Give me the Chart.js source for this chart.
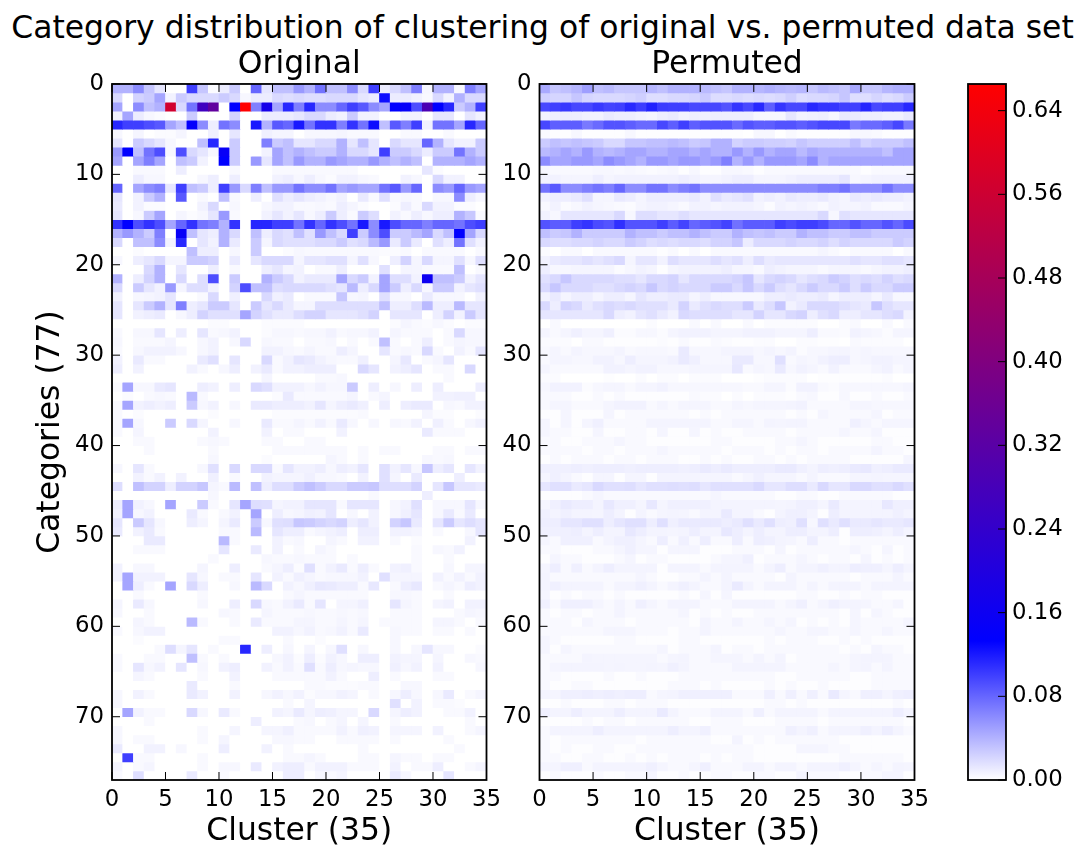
<!DOCTYPE html>
<html>
<head>
<meta charset="utf-8">
<title>Category distribution</title>
<script src="https://cdn.jsdelivr.net/npm/chart.js@4/dist/chart.umd.js"></script>
<style>
  html, body { margin: 0; padding: 0; background: #fff; }
  body { width: 1081px; height: 848px; position: relative; overflow: hidden; filter: blur(0.5px); }
  #suptitle { position: absolute; left: 0; top: 10px; width: 1085px; text-align: center;
    font: 31.4px "DejaVu Sans"; line-height: 34px; color: #000; white-space: nowrap; }
  .box { position: absolute; }
</style>
</head>
<body>
<div id="suptitle">Category distribution of clustering of original vs. permuted data set</div>
<div class="box" style="left:0;top:30px;width:507px;height:818px"><canvas id="orig"></canvas></div>
<div class="box" style="left:495px;top:30px;width:440px;height:818px"><canvas id="perm"></canvas></div>
<div class="box" style="left:950px;top:60px;width:131px;height:788px"><canvas id="cbar"></canvas></div>
<script>
// tick labels
const clusterTicks = [0, 5, 10, 15, 20, 25, 30, 35];
const categoryTicks = [0, 10, 20, 30, 40, 50, 60, 70];
const colorbarTicks = [0, 0.08, 0.16, 0.24, 0.32, 0.40, 0.48, 0.56, 0.64];
const clusterCount = 35, categoryCount = 77, colorMax = 0.6655, blueStop = 0.2;

// share of each category per cluster, in thousandths (one row per category)
const original = [
[40,40,60,30,13,0,0,100,30,2,10,27,0,80,13,33,33,53,40,73,33,33,60,20,100,10,20,33,67,4,40,40,4,67,47],
[20,0,23,27,47,7,27,20,20,20,27,20,4,10,10,20,17,20,17,17,20,20,20,13,10,126,10,10,7,3,20,7,40,20,20],
[47,0,60,33,40,570,20,73,265,335,0,133,665,67,180,47,113,67,113,60,60,80,100,87,60,47,133,145,93,290,133,113,27,40,100],
[7,47,10,4,2,0,0,27,0,0,0,23,0,0,10,10,10,13,20,20,10,7,27,7,7,0,0,7,7,0,13,13,0,13,7],
[113,100,100,93,87,47,33,140,60,9,73,60,0,120,40,87,80,120,73,107,107,67,107,73,126,33,87,67,100,7,73,73,47,113,80],
[4,0,5,0,2,2,5,0,0,8,0,13,0,0,8,5,5,0,4,4,4,5,3,3,3,0,0,3,3,0,0,3,0,0,0],
[13,0,27,20,13,4,0,0,33,113,0,27,0,0,67,27,33,13,13,20,20,40,13,33,13,0,20,13,13,80,40,13,7,7,27],
[53,133,33,73,93,4,93,20,13,4,150,27,0,0,7,47,33,40,33,27,27,40,20,20,13,100,27,27,20,10,27,27,73,40,27],
[47,0,47,67,47,0,33,27,7,0,133,27,0,53,13,47,33,53,40,40,53,47,40,40,53,40,33,40,33,0,40,40,40,47,40],
[0,0,3,3,3,0,9,0,0,0,0,3,0,0,0,3,3,3,3,3,3,3,3,0,0,0,0,0,0,13,2,0,0,0,0],
[0,0,9,4,4,0,0,0,4,9,0,9,0,0,0,7,9,4,9,4,2,7,7,4,3,0,0,7,4,0,20,7,7,0,0],
[80,0,47,60,67,13,100,33,27,9,100,53,20,67,33,53,53,73,60,60,73,47,53,47,47,73,87,53,80,0,60,53,80,53,47],
[13,0,7,27,40,0,87,0,3,0,33,3,0,9,0,16,9,13,9,7,4,7,0,11,3,16,3,4,3,0,4,4,60,9,4],
[11,0,7,2,2,0,0,0,7,20,0,4,0,0,4,7,7,3,3,4,3,9,5,2,0,0,2,9,3,20,7,7,2,2,0],
[13,0,4,27,47,0,5,2,4,13,53,3,0,0,7,13,7,13,4,9,27,9,3,27,17,0,7,3,9,4,9,9,40,29,3],
[107,133,93,107,93,47,80,107,73,67,40,107,0,113,113,100,100,73,107,80,107,93,73,120,60,120,93,80,80,67,80,80,73,93,100],
[40,53,40,27,67,0,150,33,13,9,40,20,0,33,9,20,16,33,16,53,33,20,100,27,60,93,27,27,36,47,20,33,133,47,20],
[20,0,33,33,60,7,113,0,13,7,40,11,0,27,5,20,16,16,16,20,20,27,16,20,36,53,11,27,11,0,16,9,73,16,7],
[0,0,2,0,0,0,0,33,9,9,0,4,0,27,0,0,2,4,3,3,3,3,3,3,3,2,2,3,0,3,3,3,3,0,3],
[4,0,9,13,20,5,5,27,27,23,0,11,0,13,20,20,20,5,13,13,16,16,5,16,4,0,9,23,5,20,5,5,16,4,16],
[0,0,0,20,40,0,13,0,0,9,0,3,0,0,9,13,5,7,0,3,3,9,0,0,0,16,0,5,5,3,3,3,33,0,3],
[40,0,9,23,40,0,20,0,17,93,0,27,0,0,40,27,20,7,11,11,11,47,20,27,7,47,17,17,7,160,33,33,27,7,13],
[20,0,27,13,7,53,5,17,17,7,0,23,93,33,33,17,20,20,20,20,16,13,36,9,20,47,27,9,20,4,27,27,7,13,16],
[7,0,4,5,7,13,0,0,3,20,0,8,0,0,20,8,11,0,3,3,3,29,4,5,0,16,4,4,0,11,4,4,4,0,7],
[13,0,13,27,40,13,67,9,13,27,27,13,0,27,13,20,11,5,5,17,17,17,17,17,17,33,9,9,17,36,9,9,36,13,13],
[13,0,7,9,11,0,4,9,23,16,16,16,47,23,16,11,11,17,23,23,13,13,13,16,23,0,13,13,13,0,9,23,7,27,13],
[0,0,0,0,0,0,0,0,0,2,2,0,0,0,2,2,2,2,0,0,0,0,0,0,0,0,2,5,3,2,4,2,0,2,2],
[3,0,4,4,13,0,9,0,13,3,4,7,0,0,2,4,4,3,4,4,7,3,4,4,7,0,5,3,3,3,0,3,20,4,4],
[4,0,3,3,3,5,0,0,4,7,0,4,20,0,4,3,3,0,3,3,4,0,3,0,3,33,3,0,3,9,0,3,5,4,4],
[3,0,4,7,7,7,4,0,4,7,0,0,0,0,7,7,4,3,5,3,3,9,5,0,0,13,3,4,3,20,3,0,7,3,13],
[7,0,11,3,3,0,0,0,11,16,0,13,0,0,20,3,7,13,11,7,4,3,3,8,0,0,5,12,0,3,5,13,0,0,0],
[9,0,7,0,0,0,0,7,3,0,4,9,0,7,11,3,7,7,9,9,9,0,0,20,13,0,7,9,13,0,3,3,0,20,0],
[0,0,0,0,0,0,0,0,0,0,0,0,0,0,5,0,0,0,0,3,3,4,0,0,0,0,0,0,0,0,0,3,0,0,0],
[2,47,4,4,11,13,0,0,9,7,0,9,0,20,16,7,7,7,4,7,4,4,27,0,9,0,4,0,9,0,9,0,0,0,9],
[0,2,0,3,4,3,0,36,3,0,0,0,0,0,0,2,11,3,3,3,3,3,5,0,3,5,0,0,0,0,7,7,8,8,0],
[3,47,7,9,7,9,0,27,4,7,0,4,0,11,11,9,9,9,7,13,5,9,11,8,0,9,0,9,11,11,0,4,3,7,7],
[3,0,2,0,0,0,0,0,0,2,0,0,0,0,0,2,2,2,2,2,2,2,2,3,0,0,0,0,0,5,2,2,0,0,2],
[3,47,4,0,0,27,0,20,5,0,0,4,0,0,11,3,3,5,3,7,3,11,4,0,4,0,4,3,7,0,8,3,0,4,7],
[3,0,5,0,0,0,0,0,0,7,0,0,0,0,7,0,3,3,0,0,0,7,0,0,0,0,0,0,0,11,3,3,3,0,0],
[0,0,3,3,0,0,0,0,3,4,3,0,0,0,3,3,0,0,3,3,0,0,0,0,0,0,0,0,0,0,0,0,0,0,0],
[0,0,0,3,0,0,0,0,0,3,0,0,0,0,0,3,3,3,3,3,3,3,0,3,0,3,3,0,0,0,3,3,0,3,3],
[0,0,0,0,0,0,0,0,0,4,0,0,0,0,2,0,0,0,0,0,5,3,0,3,0,0,0,0,0,4,3,4,0,0,0],
[4,0,13,3,0,0,0,0,4,16,0,20,0,20,20,3,13,7,7,9,4,9,7,13,0,16,7,13,4,29,9,13,0,13,7],
[0,0,7,3,7,0,7,0,0,8,0,3,0,0,7,5,5,5,8,4,4,3,0,7,0,16,5,0,11,0,0,0,9,0,0],
[17,0,33,23,23,9,23,23,29,5,3,36,0,33,9,17,17,27,33,27,20,20,27,27,29,17,17,17,23,0,13,29,13,13,11],
[0,0,0,0,0,0,0,0,0,4,0,0,0,0,0,0,0,0,0,0,0,0,0,0,3,0,0,0,0,9,0,0,0,0,0],
[9,47,7,4,0,47,0,0,27,3,0,13,47,17,16,5,7,7,13,13,13,3,13,13,13,0,4,7,16,0,4,4,4,13,4],
[7,47,4,7,0,0,0,11,3,0,3,7,0,47,0,9,4,5,8,7,13,0,4,0,7,0,4,8,13,0,4,11,3,11,0],
[13,0,27,13,4,0,0,9,5,0,5,11,0,27,4,16,17,29,27,23,20,23,9,13,7,0,23,29,11,0,13,27,13,17,13],
[11,0,7,11,3,0,0,0,0,0,3,3,0,36,0,13,9,9,3,5,7,9,0,9,9,0,7,7,5,0,3,0,0,4,13],
[0,0,0,11,11,0,0,0,0,0,36,3,0,0,0,7,3,4,0,0,5,3,0,7,7,0,3,0,2,0,0,0,0,7,0],
[0,0,3,3,3,0,0,0,0,0,13,0,0,11,0,7,0,3,0,5,3,0,0,0,0,0,0,0,3,0,4,3,7,0,0],
[0,0,0,0,0,0,0,0,0,3,0,0,0,0,4,3,3,4,3,3,3,0,3,0,0,0,0,0,3,0,0,3,0,0,0],
[7,0,4,4,0,0,0,0,5,0,0,9,0,0,3,5,9,2,16,3,7,11,3,9,3,0,7,8,3,0,0,4,0,5,5],
[7,47,7,7,7,0,0,13,4,0,3,3,0,13,0,7,3,8,5,3,4,4,4,7,0,16,5,5,5,0,7,3,7,3,7],
[0,47,9,3,0,47,0,20,9,0,0,4,0,36,20,0,7,4,8,12,11,9,9,3,12,0,3,9,12,0,3,5,3,9,7],
[0,0,3,0,0,0,0,0,3,0,0,0,0,0,0,0,3,5,3,3,3,3,3,3,0,0,4,4,3,0,0,3,0,0,0],
[5,0,11,4,0,0,0,0,4,0,0,9,0,20,4,3,7,11,3,13,0,5,5,8,0,0,13,5,3,0,5,7,0,7,7],
[4,0,0,3,0,0,0,0,0,0,4,3,0,0,5,3,3,3,4,3,3,4,3,4,0,0,3,3,3,0,0,0,3,5,4],
[0,0,5,3,0,0,0,36,3,0,0,3,0,11,3,3,3,5,5,3,3,5,3,5,0,3,3,3,3,0,5,5,3,0,3],
[3,0,4,7,7,0,0,0,0,0,0,0,0,0,0,7,7,4,7,3,4,7,3,11,0,0,4,3,3,0,3,3,0,3,0],
[0,0,2,0,0,0,0,0,0,0,3,3,0,0,0,0,3,0,0,2,0,0,0,0,0,0,4,0,0,0,0,0,0,0,0],
[0,0,0,0,3,17,5,13,0,3,0,0,113,0,9,0,4,0,5,0,4,16,0,4,0,0,4,0,4,13,4,4,0,0,2],
[3,0,0,3,3,0,0,33,3,0,3,0,0,0,0,4,7,2,9,2,7,4,0,9,9,0,7,5,5,0,5,0,0,4,3],
[3,0,13,4,7,0,13,0,4,0,7,9,0,0,7,3,7,3,16,3,9,4,5,4,4,0,8,4,7,0,7,0,0,0,4],
[0,0,5,3,0,0,0,0,3,0,0,7,0,0,0,3,3,3,3,3,7,3,0,0,9,0,3,0,0,0,3,3,0,0,0],
[0,0,0,0,0,0,0,11,0,0,0,3,0,0,0,0,0,0,3,3,2,2,2,3,3,0,0,4,4,0,0,0,0,0,0],
[4,0,7,3,0,0,0,11,7,0,0,7,0,0,4,7,4,7,2,4,4,7,5,0,3,0,4,9,4,0,4,11,0,3,5],
[4,0,0,0,0,0,0,0,0,0,0,0,0,0,0,0,3,0,5,0,0,0,0,0,0,0,16,0,7,0,3,3,2,0,0],
[0,47,7,3,3,0,0,20,4,0,11,3,0,0,0,7,5,11,5,9,8,5,5,0,20,0,5,9,7,0,0,3,3,7,0],
[0,0,0,3,0,0,0,0,0,0,0,0,0,9,0,0,0,3,4,0,3,5,0,5,0,0,3,0,0,0,0,0,0,3,0],
[4,0,0,0,0,0,0,0,3,0,0,5,0,0,5,5,8,3,3,3,3,7,3,8,7,0,5,5,5,0,7,0,0,3,5],
[4,0,3,3,0,0,0,0,3,0,5,0,0,0,0,4,4,3,3,0,0,3,3,3,3,0,3,0,0,0,0,3,0,0,0],
[11,0,0,7,7,0,4,0,0,0,9,0,0,0,7,0,3,0,0,0,0,0,0,3,0,0,0,0,0,0,0,0,3,0,0],
[0,100,3,3,0,0,0,0,3,0,0,0,0,0,0,0,3,3,5,3,0,0,0,3,3,0,5,3,3,0,3,3,0,0,0],
[5,0,3,5,0,0,0,0,3,0,4,4,0,11,0,7,9,9,3,7,7,7,3,3,3,0,7,0,3,3,9,0,0,3,5],
[3,0,17,0,0,0,0,11,0,0,3,0,0,0,0,0,9,9,0,4,3,5,0,0,0,0,11,4,0,0,0,13,0,0,0]
];

const permuted = [
[45,30,33,38,50,33,36,30,30,30,38,33,40,40,40,36,33,30,40,40,38,42,38,36,38,30,36,33,30,45,30,30,38,42,42],
[25,22,22,30,22,20,20,20,22,25,17,17,20,20,22,27,18,18,20,18,20,18,20,25,18,20,20,22,30,17,17,22,17,20,27],
[96,100,104,96,96,104,98,100,112,102,116,102,100,100,96,96,96,90,106,96,112,84,106,96,96,112,106,106,100,100,114,96,100,100,112],
[7,9,9,9,7,7,11,9,9,7,5,9,11,7,9,8,9,9,9,9,4,4,4,13,7,8,9,5,11,11,9,9,7,7,11],
[96,84,84,84,70,78,90,90,84,78,78,96,84,100,84,90,90,90,78,90,84,84,90,90,84,90,96,96,96,70,78,78,84,96,70],
[3,1,1,4,1,1,1,1,4,1,1,1,1,1,1,1,1,1,1,0,4,4,0,3,1,1,1,1,1,4,4,3,1,1,1],
[27,33,30,33,30,27,20,20,30,30,33,33,36,33,27,30,40,40,23,27,27,25,25,23,30,25,25,25,25,33,23,27,27,27,33],
[36,40,47,40,53,40,36,40,47,47,40,40,47,47,40,47,40,40,53,40,53,40,47,47,36,45,40,40,40,40,40,40,33,47,47],
[60,47,47,53,53,47,60,53,47,40,53,53,47,53,53,47,53,67,40,53,40,53,53,53,47,60,40,47,47,47,47,47,47,47,47],
[4,3,3,3,3,4,4,3,4,3,2,3,4,1,4,1,1,4,4,3,1,3,3,3,3,3,3,3,3,3,1,3,3,3,3],
[7,7,5,5,5,9,5,7,7,7,7,7,7,9,7,5,5,7,9,9,5,5,5,7,9,9,9,9,13,4,5,7,7,7,7],
[73,87,60,60,67,73,67,80,60,60,73,73,60,67,73,60,60,60,60,60,60,60,60,60,60,60,67,67,73,60,60,60,73,60,60],
[7,9,9,11,16,5,5,11,9,5,9,9,9,9,11,7,16,11,13,16,7,9,7,11,9,9,11,7,5,11,9,11,9,9,7],
[3,7,2,4,7,5,4,3,2,5,7,7,5,3,7,7,5,7,7,7,5,2,7,5,7,5,3,7,5,5,7,3,3,3,5],
[7,4,13,13,13,13,13,20,4,17,17,13,13,17,13,13,13,13,13,13,13,13,13,13,13,13,20,4,16,13,13,13,13,13,13],
[90,85,85,100,106,94,90,108,90,90,90,100,85,98,80,85,90,98,74,85,85,85,100,94,100,100,94,80,80,90,80,80,90,80,94],
[33,27,30,40,27,27,27,27,40,33,33,27,33,33,40,33,27,27,40,33,30,33,27,27,40,33,33,27,27,33,33,27,27,27,27],
[20,17,17,20,20,23,20,20,27,23,17,20,17,20,20,17,23,23,30,10,20,20,20,23,20,20,23,17,23,20,20,20,20,27,23],
[2,0,3,3,0,3,3,3,3,3,3,1,3,0,3,0,3,3,3,3,3,3,3,3,3,3,5,3,1,3,3,3,3,0,3],
[7,11,13,13,16,13,16,20,5,13,13,7,17,13,13,13,17,13,16,9,17,11,13,13,13,13,13,13,13,16,13,13,16,16,13],
[9,4,4,5,5,5,5,2,4,7,5,1,5,7,7,7,7,9,5,5,3,9,7,5,5,5,3,5,5,5,3,5,7,7,9],
[16,20,29,20,20,20,20,17,17,13,20,20,23,13,20,20,20,20,23,30,13,20,23,20,13,17,20,27,23,17,20,17,23,17,20],
[20,29,20,20,20,16,16,20,23,20,29,20,23,20,20,20,27,27,20,29,20,27,17,13,20,27,20,20,27,17,27,20,20,27,27],
[7,11,5,9,9,5,9,9,5,13,9,9,11,11,5,9,4,4,4,4,4,9,9,11,9,9,11,5,9,9,9,5,11,4,4],
[20,9,23,20,11,16,20,17,20,16,16,16,11,23,11,16,20,17,17,27,11,17,29,7,11,20,20,20,16,13,11,29,17,13,13],
[13,13,13,13,13,13,20,9,7,13,16,11,7,20,17,17,17,17,13,13,23,13,13,20,23,9,16,20,9,9,13,13,17,20,7],
[0,3,0,0,0,0,0,0,0,0,2,0,0,0,3,0,3,0,0,3,0,2,2,2,2,2,0,0,2,3,0,0,3,0,3],
[5,3,5,8,5,5,8,2,2,4,4,2,5,7,7,7,5,5,5,7,7,7,5,5,5,9,3,3,2,7,5,4,2,5,5],
[2,2,2,0,3,3,1,1,1,1,1,2,1,3,1,1,3,2,1,1,2,2,0,0,2,2,1,1,0,3,2,2,2,2,0],
[3,5,3,6,4,4,4,6,3,4,4,4,3,11,4,4,4,6,6,6,4,6,4,6,2,4,4,5,5,4,5,4,4,4,4],
[3,5,5,4,4,7,7,4,9,5,5,5,7,11,8,4,4,4,11,11,4,4,16,3,5,4,7,9,9,4,5,7,7,5,5],
[5,3,3,3,3,3,7,7,5,7,7,4,4,4,5,5,5,5,12,3,5,4,11,4,7,5,3,7,3,3,3,5,7,3,5],
[2,2,0,0,0,0,1,0,0,2,0,2,2,0,2,2,2,0,0,0,1,2,2,2,2,0,1,1,1,1,1,1,2,0,0],
[4,7,7,7,2,4,5,5,3,5,5,7,4,4,4,4,4,4,4,3,3,5,5,2,7,7,3,2,4,4,4,4,4,4,5],
[3,3,3,1,1,3,1,3,1,1,1,1,1,1,3,2,2,0,2,0,2,2,2,1,3,4,1,1,4,1,1,3,1,1,3],
[3,5,5,3,3,3,5,7,7,7,3,5,3,5,5,5,3,3,5,4,5,5,5,6,7,3,3,3,3,5,5,4,4,4,4],
[1,1,5,1,1,1,5,1,3,3,3,3,3,3,1,3,1,3,3,3,3,3,3,1,3,1,5,3,3,3,3,5,1,3,3],
[5,1,5,1,5,8,3,3,3,3,6,6,6,6,6,6,3,3,5,5,3,6,5,6,6,3,3,3,3,8,5,3,5,5,5],
[5,3,3,1,1,5,1,1,3,3,1,5,1,1,5,1,3,1,1,3,3,3,3,1,3,3,3,3,5,3,3,5,1,1,1],
[3,3,1,1,3,3,3,5,3,3,1,1,1,1,1,1,3,3,1,1,1,1,3,3,5,3,1,1,1,1,1,3,3,1,1],
[3,3,3,3,1,3,3,1,3,3,3,5,3,3,3,3,3,1,3,3,3,1,3,1,3,3,1,3,3,3,3,6,3,3,1],
[1,3,1,3,3,3,1,3,3,1,3,3,3,1,1,3,1,3,1,1,3,3,1,3,1,3,3,3,3,1,1,1,1,1,5],
[8,8,8,9,8,9,9,9,8,9,9,9,9,8,9,11,9,11,9,9,9,9,11,11,8,6,9,8,9,11,12,8,9,11,11],
[5,8,6,3,1,5,5,1,5,5,1,6,6,6,6,5,5,5,3,5,8,5,5,5,3,6,3,3,3,5,5,6,5,5,5],
[13,16,16,11,13,20,16,16,17,13,16,16,17,16,17,13,16,16,16,16,20,13,13,17,17,11,20,13,13,20,20,16,16,20,16],
[1,1,1,1,3,5,3,3,3,3,3,3,3,3,3,3,5,3,3,3,3,3,1,1,3,3,1,1,3,3,3,3,3,1,1],
[5,8,11,9,9,6,12,8,8,5,12,5,8,8,8,8,6,6,6,6,6,6,5,6,8,8,5,11,6,6,6,6,12,8,8],
[8,6,8,6,6,5,9,6,1,6,3,5,6,5,3,6,6,11,6,6,3,1,6,8,8,6,1,9,6,6,6,6,6,8,6],
[9,9,13,13,16,16,9,13,16,16,9,16,8,11,11,11,11,9,11,16,11,16,9,8,16,4,16,11,16,11,11,13,11,11,13],
[8,8,8,9,6,9,6,6,12,9,6,6,5,6,9,6,6,12,9,6,9,6,6,9,9,6,6,9,1,9,9,8,6,9,6],
[5,3,8,8,8,3,6,8,8,5,3,9,3,8,3,9,3,3,9,3,9,8,6,5,3,9,3,3,1,3,3,3,3,3,3],
[3,3,1,1,1,3,3,5,8,5,5,1,5,5,5,1,1,1,3,3,3,1,5,1,3,3,3,3,3,5,3,1,5,1,3],
[1,5,3,3,1,1,1,3,5,1,3,3,1,1,1,1,3,5,5,8,1,3,3,3,5,3,1,3,3,1,5,1,3,1,3],
[5,9,3,8,3,6,9,6,6,6,6,1,6,6,6,3,6,6,6,6,3,6,9,3,6,6,8,6,6,9,8,8,5,9,6],
[6,3,3,3,3,3,3,3,3,5,3,1,1,3,3,6,3,6,3,3,3,3,1,6,3,3,3,3,3,1,3,3,3,6,3],
[6,8,6,6,6,6,3,6,6,8,6,3,6,8,6,3,3,6,11,6,3,6,6,6,3,6,3,6,6,6,3,6,6,6,6],
[5,1,3,1,3,3,1,3,1,1,1,1,1,3,1,5,1,5,1,1,1,1,1,1,3,3,1,1,3,1,3,3,1,1,1],
[8,3,8,8,8,5,3,6,3,8,5,3,6,6,6,3,3,3,6,6,6,6,3,5,8,3,5,8,6,6,5,3,3,5,1],
[3,1,3,3,1,3,3,6,3,3,3,3,3,5,1,3,1,3,1,1,3,3,3,3,3,3,3,3,1,5,1,5,3,1,1],
[3,3,3,1,5,3,3,3,1,3,3,3,3,3,1,6,3,3,6,3,3,5,3,5,1,3,1,3,1,5,3,3,3,3,5],
[3,3,3,3,3,3,5,5,5,3,3,3,1,3,3,6,3,3,3,3,3,3,5,3,3,5,5,3,3,5,3,3,5,3,3],
[5,3,1,1,1,1,1,3,3,1,1,1,1,3,3,1,1,1,1,1,1,3,1,3,3,3,1,1,3,1,3,1,1,1,1],
[5,1,5,3,3,3,3,3,3,3,3,5,1,3,3,3,6,1,3,3,1,3,3,3,3,3,3,3,1,3,1,5,3,3,1],
[3,3,3,3,6,5,5,5,5,5,5,3,5,6,3,3,5,5,5,3,6,3,6,1,3,3,3,3,3,5,6,6,6,3,3],
[3,5,6,6,6,6,5,6,5,5,6,5,8,6,3,3,3,3,6,6,6,6,6,3,3,3,3,5,3,5,6,3,6,3,3],
[3,3,1,1,1,1,3,1,1,3,1,1,1,3,3,3,3,3,3,3,3,3,1,1,3,3,3,3,3,1,1,3,3,3,3],
[3,1,1,3,3,1,1,1,1,1,1,1,3,3,3,1,3,1,1,1,1,3,1,3,1,1,3,1,1,1,1,3,3,3,3],
[6,5,8,8,9,8,9,8,9,9,3,5,6,8,8,8,8,8,3,3,3,8,3,8,3,8,3,11,5,3,8,8,5,8,9],
[1,1,3,1,1,1,3,3,1,3,3,3,1,1,1,1,1,1,1,1,1,3,3,1,3,1,1,1,1,1,1,1,1,3,1],
[8,6,6,9,6,6,6,9,6,6,6,11,6,3,3,3,6,6,6,3,8,3,6,6,6,6,3,6,6,6,6,6,6,9,6],
[1,1,1,1,3,1,3,3,1,3,3,3,3,3,1,1,3,3,3,1,1,1,3,3,3,3,1,3,3,3,3,3,3,3,1],
[3,6,6,6,6,9,6,6,6,6,6,6,9,6,6,8,3,3,3,3,3,3,3,8,6,8,3,6,6,6,8,6,9,6,3],
[3,1,3,3,3,3,3,3,3,1,3,3,3,3,3,3,1,1,6,1,3,1,3,3,3,3,3,3,1,1,1,1,1,1,1],
[3,1,3,1,1,3,3,1,1,3,3,3,3,3,3,3,3,3,3,3,1,1,1,1,5,5,5,3,3,1,1,1,1,1,1],
[3,3,1,1,3,3,1,1,3,1,3,1,3,3,3,1,3,1,3,3,1,1,1,1,1,1,1,1,3,3,3,3,3,3,1],
[5,5,8,8,3,6,6,6,6,6,8,5,3,3,5,8,3,3,3,6,6,3,6,6,3,6,6,6,8,5,3,5,3,6,5],
[1,3,1,1,1,3,1,1,3,3,5,1,1,3,1,1,3,3,1,1,3,3,1,1,5,3,3,3,1,1,3,3,5,5,1]
];

function cellColor(v) {
  const f = (v / 1000) / colorMax;
  if (f <= blueStop) {
    const c = Math.round(255 * (1 - f / blueStop));
    return `rgb(${c},${c},255)`;
  }
  const t = (f - blueStop) / (1 - blueStop);
  return `rgb(${Math.round(255 * t)},0,${Math.round(255 * (1 - t))})`;
}

// frame and inward tick marks, placed with the chart's own scales
function frameTicks(xSides, ySides) {
  return {
    id: 'frameTicks',
    afterDatasetsDraw(chart) {
      const { ctx, chartArea: a, scales } = chart;
      const len = 8;
      ctx.save();
      ctx.strokeStyle = '#000';
      ctx.lineWidth = 1;
      ctx.beginPath();
      if (xSides) {
        scales.x.ticks.forEach(t => {
          const px = scales.x.getPixelForValue(t.value);
          ctx.moveTo(px, a.top); ctx.lineTo(px, a.top + len);
          ctx.moveTo(px, a.bottom); ctx.lineTo(px, a.bottom - len);
        });
      }
      scales.y.ticks.forEach(t => {
        const py = scales.y.getPixelForValue(t.value);
        if (ySides === 'both') { ctx.moveTo(a.left, py); ctx.lineTo(a.left + len, py); }
        ctx.moveTo(a.right, py); ctx.lineTo(a.right - len, py);
      });
      ctx.stroke();
      ctx.lineWidth = 1.8;
      ctx.strokeRect(a.left, a.top, a.right - a.left, a.bottom - a.top);
      ctx.restore();
    }
  };
}

const labelFont = { family: 'DejaVu Sans', size: 22.8 };
const titleFont = { family: 'DejaVu Sans', size: 31.4, weight: 'normal', lineHeight: 1.2 };
const xTitleFont = { family: 'DejaVu Sans', size: 31.4, weight: 'normal', lineHeight: 1 };

function heatmap(id, rows, panelTitle, yWidth, yTitle, rightPad) {
  return new Chart(document.getElementById(id), {
    type: 'bar',
    data: {
      datasets: rows.map((row, r) => ({
        data: row.map((v, c) => ({ x: c + 0.5, y: [r, r + 1] })),
        backgroundColor: row.map(cellColor),
        barPercentage: 1,
        categoryPercentage: 1,
        grouped: false,
        borderWidth: 0
      }))
    },
    options: {
      responsive: true,
      maintainAspectRatio: false,
      animation: false,
      layout: { padding: { right: rightPad } },
      plugins: {
        legend: { display: false },
        tooltip: { enabled: false },
        title: {
          display: true, text: panelTitle, color: '#000', font: titleFont, fullSize: false,
          padding: { top: 16, bottom: 0.3 }
        }
      },
      scales: {
        x: {
          type: 'linear', min: 0, max: clusterCount, offset: false,
          grid: { display: false, drawTicks: false }, border: { display: false },
          afterBuildTicks: s => { s.ticks = clusterTicks.map(v => ({ value: v })); },
          afterFit: s => { s.height = 68; },
          ticks: { color: '#000', font: labelFont, padding: 6, maxRotation: 0, autoSkip: false },
          title: { display: true, text: 'Cluster (35)', color: '#000', font: xTitleFont, padding: { top: -3, bottom: 0 } }
        },
        y: {
          type: 'linear', min: 0, max: categoryCount, reverse: true,
          grid: { display: false, drawTicks: false }, border: { display: false },
          afterBuildTicks: s => { s.ticks = categoryTicks.map(v => ({ value: v })); },
          afterFit: s => { s.width = yWidth; },
          ticks: { color: '#000', font: labelFont, padding: 8, autoSkip: false },
          title: { display: !!yTitle, text: yTitle, color: '#000', font: titleFont, padding: { top: 32, bottom: 0 } }
        }
      }
    },
    plugins: [frameTicks(true, 'both')]
  });
}

heatmap('orig', original, 'Original', 112, 'Categories (77)', 20);
heatmap('perm', permuted, 'Permuted', 44.5, '', 20);

new Chart(document.getElementById('cbar'), {
  type: 'bar',
  data: {
    labels: ['scale'],
    datasets: [{
      data: [[0, colorMax]],
      barPercentage: 1,
      categoryPercentage: 1,
      borderWidth: 0,
      backgroundColor: ctx => {
        const { chart } = ctx;
        if (!chart.chartArea) return '#fff';
        const y = chart.scales.y;
        const g = chart.ctx.createLinearGradient(0, y.getPixelForValue(0), 0, y.getPixelForValue(colorMax));
        g.addColorStop(0, '#fff');
        g.addColorStop(blueStop, '#00f');
        g.addColorStop(1, '#f00');
        return g;
      }
    }]
  },
  options: {
    responsive: true,
    maintainAspectRatio: false,
    animation: false,
    layout: { padding: { left: 18, top: 24, bottom: 68 } },
    plugins: { legend: { display: false }, tooltip: { enabled: false }, title: { display: false } },
    scales: {
      x: { display: false },
      y: {
        type: 'linear', position: 'right', min: 0, max: colorMax,
        grid: { display: false, drawTicks: false }, border: { display: false },
        afterBuildTicks: s => { s.ticks = colorbarTicks.map(v => ({ value: v })); },
        afterFit: s => { s.width = 75; },
        ticks: { color: '#000', font: labelFont, padding: 6, autoSkip: false, callback: v => v.toFixed(2) }
      }
    }
  },
  plugins: [frameTicks(false, 'right')]
});
</script>
</body>
</html>
